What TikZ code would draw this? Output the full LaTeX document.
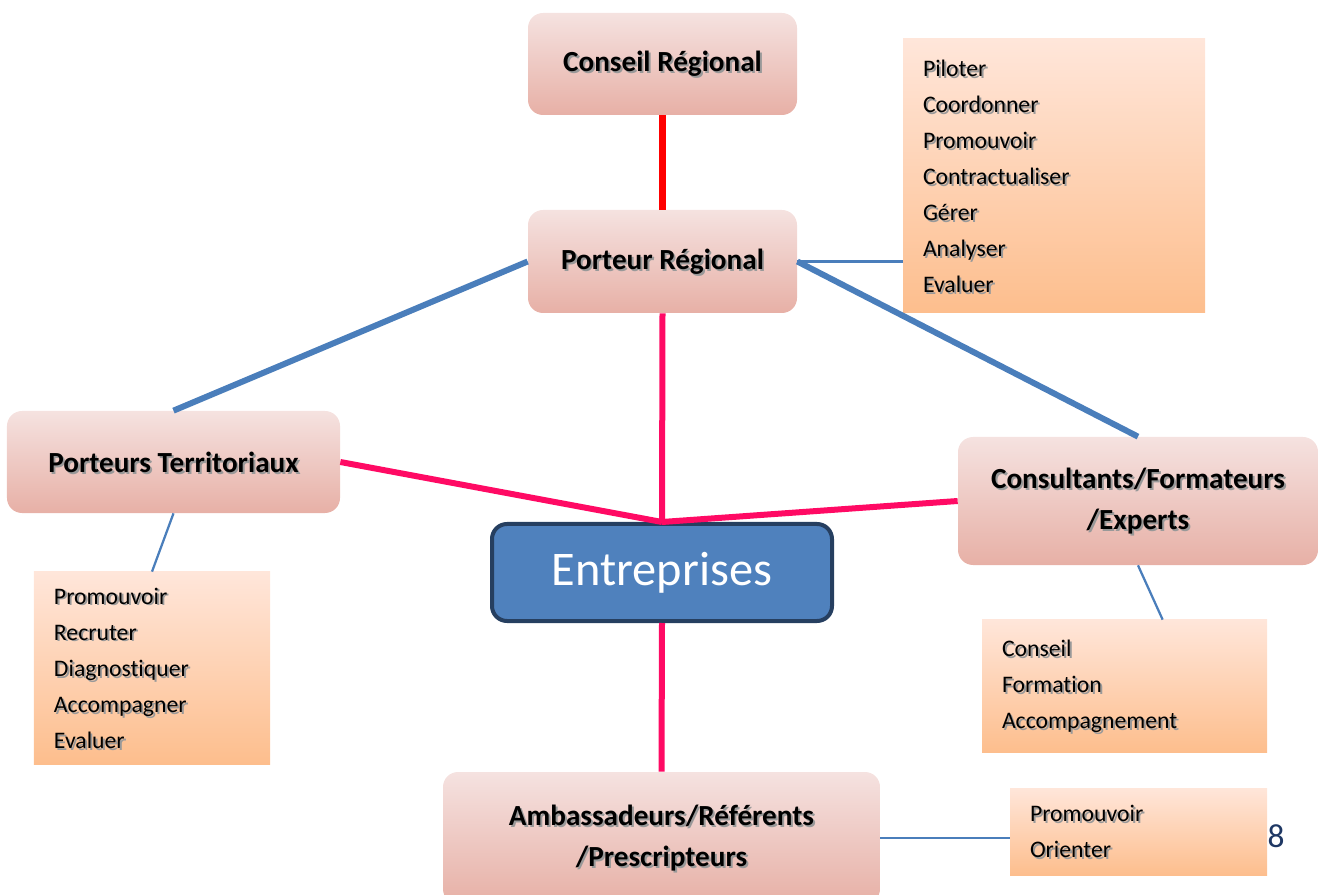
\documentclass[tikz,border=0pt]{standalone}
\usepackage{fontspec}
\setmainfont{Carlito}[Ligatures=NoCommon]
\usetikzlibrary{calc}

\definecolor{roletop}{HTML}{F5E2E0}
\definecolor{rolebot}{HTML}{E7B0A6}
\definecolor{tasktop}{HTML}{FFE6DA}
\definecolor{taskbot}{HTML}{FDBE8D}
\definecolor{tiepink}{HTML}{FF0A64}
\definecolor{tiered}{HTML}{FF0000}
\definecolor{linkblue}{HTML}{4A7EBB}
\definecolor{entfill}{HTML}{4F81BD}
\definecolor{entdraw}{HTML}{263F60}
\definecolor{pagenum}{HTML}{1F3864}

% texte avec ombre portée
\newcommand\shd[1]{\leavevmode\rlap{\smash{\raisebox{-1.1pt}{\hspace{1.1pt}\textcolor{black!40}{#1}}}}#1}

\begin{document}
\begin{tikzpicture}[x=0.2mm, y=-0.2mm, line join=round,
		role/.style={rounded corners=3mm, top color=roletop, bottom color=rolebot, inner sep=0pt,
			align=center, font=\fontsize{16.6}{23.3}\selectfont\bfseries},
		tasks/.style={top color=tasktop, bottom color=taskbot, inner xsep=4mm, inner ysep=0pt,
			align=left, font=\fontsize{13.5}{20.5}\selectfont},
		tie/.style={line width=1.2mm, tiepink},
		link/.style={line width=1.2mm, linkblue},
		twig/.style={line width=0.45mm, linkblue}]
	\useasboundingbox (0,0) rectangle (1319,895);

	% les acteurs
	\node[role, minimum width=53.8mm, minimum height=20.4mm] (cr) at (662.5,64) {\shd{Conseil Régional}};
	\node[role, minimum width=53.8mm, minimum height=20.6mm] (pr) at (662.5,261.5) {\shd{Porteur Régional}};
	\node[role, minimum width=66.6mm, minimum height=20.4mm] (pt) at (173.5,462) {\shd{Porteurs Territoriaux}};
	\node[role, minimum width=72mm, minimum height=25.6mm] (cf) at (1138,501)
		{\shd{Consultants/Formateurs}\\\shd{/Experts}};
	\node[role, minimum width=87.4mm, minimum height=26.4mm] (amb) at (661.5,838)
		{\shd{Ambassadeurs/Référents}\\\shd{/Prescripteurs}};
	\node[rounded corners=3mm, fill=entfill, draw=entdraw, line width=0.8mm, text=white,
		minimum width=68mm, minimum height=19.4mm, font=\fontsize{27.5}{30}\selectfont] (ent) at (662,572.5) {Entreprises};

	% les missions
	\node[tasks, text width=52.4mm, minimum height=54.8mm] (pil) at (1054,176)
		{\shd{Piloter}\\\shd{Coordonner}\\\shd{Promouvoir}\\\shd{Contractualiser}\\\shd{Gérer}\\\shd{Analyser}\\\shd{Evaluer}};
	\node[tasks, text width=39.2mm, minimum height=38.4mm] (ltasks) at (152,668)
		{\shd{Promouvoir}\\\shd{Recruter}\\\shd{Diagnostiquer}\\\shd{Accompagner}\\\shd{Evaluer}};
	\node[tasks, text width=49mm, minimum height=26.4mm] (ctasks) at (1124.5,686)
		{\shd{Conseil}\\\shd{Formation}\\\shd{Accompagnement}};
	\node[tasks, text width=43.4mm, minimum height=17.4mm] (atasks) at (1138.5,831.5)
		{\shd{Promouvoir}\\\shd{Orienter}};

	\node[text=pagenum, font=\fontsize{19}{22}\selectfont] (pg) at (1276,836) {8};

	% liaisons
	\draw[line width=1.4mm, tiered] (cr.south) -- (pr.north);
	\draw[tie] (pr.south) -- (ent.north);
	\draw[tie] (pt.east) -- (ent.north);
	\draw[tie] (cf.west) -- (ent.north);
	\draw[tie] (ent.south) -- (amb.north);
	\draw[link] (pr.west) -- (pt.north);
	\draw[link] (pr.east) -- (cf.north);
	\draw[twig] (pr.east) -- (pr.east -| pil.west);
	\draw[twig] (pt.south) -- (ltasks.north);
	\draw[twig] (cf.south) -- ($(ctasks.north west)+(181,0)$);
	\draw[twig] (amb.east) -- (amb.east -| atasks.west);
\end{tikzpicture}
\end{document}
